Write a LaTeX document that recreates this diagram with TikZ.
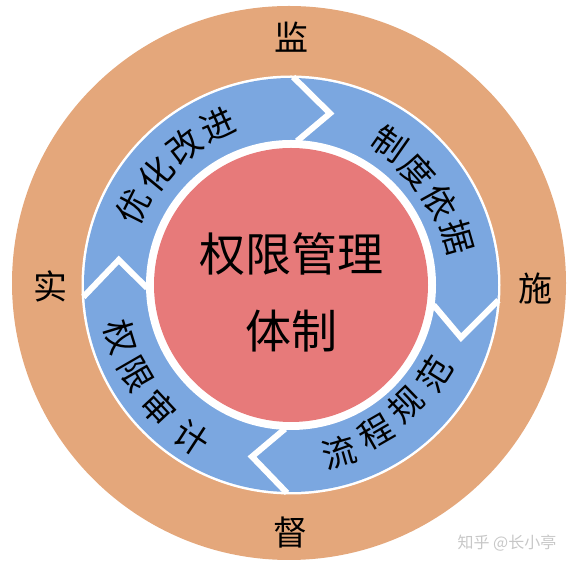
\documentclass[tikz,border=0pt]{standalone}
\usepackage{fontspec}
\usepackage{tikz}
\newfontfamily\cjk{Noto Sans CJK SC}
\definecolor{ringorange}{RGB}{228,167,123}
\definecolor{ringblue}{RGB}{123,167,224}
\definecolor{corered}{RGB}{231,122,122}
\tikzset{
    outertext/.style={font=\cjk\fontsize{34}{34}\selectfont, inner sep=0pt},
    ringtext/.style={font=\cjk\fontsize{34}{34}\selectfont, inner sep=0pt},
    coretext/.style={font=\cjk\fontsize{46}{46}\selectfont, inner sep=0pt},
    chevron/.style={white, line width=6pt, line join=miter}
}

\begin{document}
\begin{tikzpicture}[x=1pt, y=1pt]

                \useasboundingbox (0, 0) rectangle (576, 570);
                \coordinate (c) at (291, 285);

                % rings
                \fill[ringorange] (289, 287) circle (277);
                \fill[white] (c) circle (209.5);
                \fill[ringblue] (c) circle (207);
                \fill[white] (c) circle (145);
                \fill[corered] (c) circle (137);

                % chevrons between the four steps
                \draw[chevron] ([shift={(89.4:208)}]c) -- ([shift={(77.2:176)}]c) -- ([shift={(87.6:144)}]c);
                \draw[chevron] ([shift={(-4.2:208)}]c) -- ([shift={(-17.2:178)}]c) -- ([shift={(-8:144)}]c);
                \draw[chevron] ([shift={(268.9:208)}]c) -- ([shift={(257.2:176)}]c) -- ([shift={(267.6:144)}]c);
                \draw[chevron] ([shift={(183.3:208)}]c) -- ([shift={(171.7:174)}]c) -- ([shift={(181.2:144)}]c);

                % outer ring
                \node[outertext] (jian) at (291, 533) {监};
                \node[outertext] (shi) at (535, 281) {施};
                \node[outertext] (du) at (290, 37) {督};
                \node[outertext] (shix) at (50, 284) {实};

                % core
                \node[coretext] (core1) at (291, 316) {权限管理};
                \node[coretext] (core2) at (291, 239) {体制};

                % step: 优化改进
                \node[ringtext, rotate=63.5] (you) at ([shift={(153.5:176)}]c) {优};
                \node[ringtext, rotate=50.5] (hua) at ([shift={(140.5:175)}]c) {化};
                \node[ringtext, rotate=37.5] (gai) at ([shift={(127.5:175)}]c) {改};
                \node[ringtext, rotate=24.5] (jin) at ([shift={(114.5:176)}]c) {进};

                % step: 制度依据
                \node[ringtext, rotate=-35] (zhi) at ([shift={(55:172)}]c) {制};
                \node[ringtext, rotate=-48] (du2) at ([shift={(42:170)}]c) {度};
                \node[ringtext, rotate=-61] (yi) at ([shift={(29:170)}]c) {依};
                \node[ringtext, rotate=-74] (ju) at ([shift={(16:173)}]c) {据};

                % step: 流程规范
                \node[ringtext, rotate=16] (liu) at ([shift={(-74:174)}]c) {流};
                \node[ringtext, rotate=30] (cheng) at ([shift={(-60:170)}]c) {程};
                \node[ringtext, rotate=44] (gui) at ([shift={(-46:166)}]c) {规};
                \node[ringtext, rotate=58] (fan) at ([shift={(-32:169)}]c) {范};

                % step: 权限审计
                \node[ringtext, rotate=287] (quan) at ([shift={(197:178)}]c) {权};
                \node[ringtext, rotate=300] (xian) at ([shift={(210:179)}]c) {限};
                \node[ringtext, rotate=313] (shen) at ([shift={(223:181)}]c) {审};
                \node[ringtext, rotate=327] (ji) at ([shift={(237:182)}]c) {计};

                % watermark
                \node[font=\cjk\fontsize{16}{16}\selectfont, text=black!22, inner sep=0pt] (mark) at (507, 27) {知乎 @长小亭};
            \end{tikzpicture}
\end{document}
